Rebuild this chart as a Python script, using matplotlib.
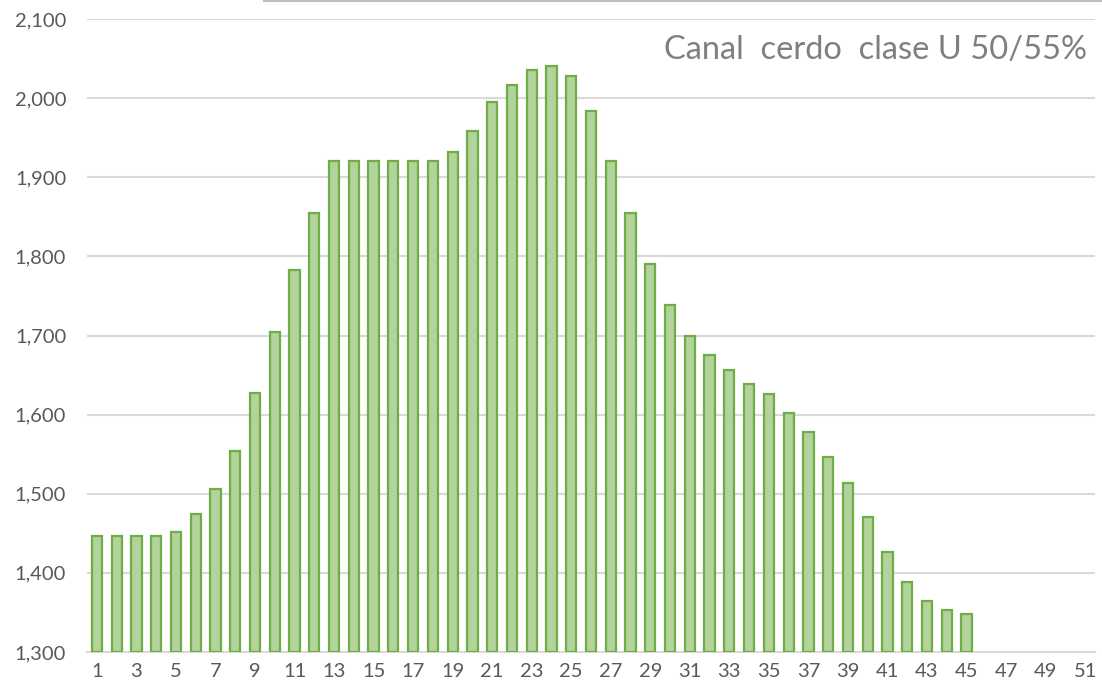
import numpy as np
import matplotlib
matplotlib.use('Agg')
import matplotlib.pyplot as plt

plt.rcParams['font.family'] = ['Lato', 'DejaVu Sans']

# semanas y precio canal
semanas = list(range(1, 52))
precios = [1447, 1447, 1447, 1447, 1452, 1474, 1506, 1554, 1627, 1705,
           1783, 1855, 1920, 1920, 1920, 1920, 1920, 1920, 1932, 1959,
           1995, 2017, 2036, 2040, 2028, 1984, 1920, 1855, 1790, 1738,
           1700, 1675, 1656, 1639, 1626, 1602, 1578, 1547, 1514, 1470,
           1426, 1389, 1364, 1353, 1348]
titulo = 'Canal  cerdo  clase U 50/55%'
yticks = list(range(1300, 2101, 100))

fig = plt.figure(figsize=(11.02, 6.91), dpi=100)
ax = fig.add_axes([87 / 1102, 39 / 691, 1008 / 1102, 633 / 691])

x = np.arange(len(semanas))
ax.bar(x[:len(precios)], np.array(precios) - 1300, bottom=1300, width=0.52,
       color='#b2d39c', edgecolor='#70ad47', linewidth=1.6, zorder=3)

ax.set_xlim(-0.5, len(semanas) - 0.5)
ax.set_ylim(1300, 2100)
ax.set_yticks(yticks)
ax.set_yticklabels(['{:,}'.format(v) for v in yticks])
ax.set_xticks(x[::2])
ax.set_xticklabels([str(s) for s in semanas[::2]])
ax.tick_params(axis='both', length=0, labelsize=14.5, colors='#595959')
ax.tick_params(axis='y', pad=15)
ax.tick_params(axis='x', pad=8)

ax.grid(axis='y', color='#d9d9d9', linewidth=1.5, zorder=0)
for s in ['top', 'right', 'left']:
    ax.spines[s].set_visible(False)
ax.spines['bottom'].set_color('#d9d9d9')
ax.spines['bottom'].set_linewidth(1.5)

# borde superior del gráfico
fig.add_artist(plt.Line2D([0.24, 1.0], [1 - 1 / 691, 1 - 1 / 691],
                          transform=fig.transFigure, color='#bfbfbf', linewidth=1.5))

fig.text(1087 / 1102, 1 - 50 / 691, titulo, ha='right', va='center',
         fontsize=23.5, color='#7f7f7f')

fig.savefig('out.png', dpi=100)
